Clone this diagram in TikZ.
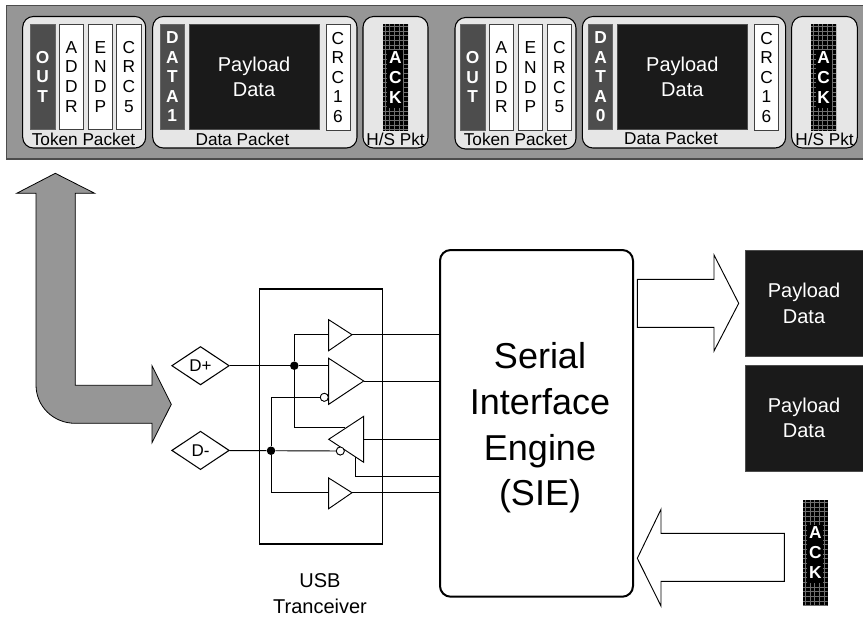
\documentclass[tikz,border=0pt]{standalone}
\usepackage{fontspec}
\setmainfont{Liberation Sans}
\usetikzlibrary{shapes.geometric}
\definecolor{bandgray}{HTML}{969696}
\definecolor{pktgray}{HTML}{E6E6E6}
\definecolor{paydark}{HTML}{1A1A1A}
\definecolor{pidgray}{HTML}{4D4D4D}
\definecolor{gridgray}{HTML}{707070}
\tikzset{
  x=0.75pt,y=-0.75pt,
  box/.style={rectangle,inner sep=0pt,outer sep=0pt,align=center},
  pkt/.style={box,draw=black,line width=0.8pt,fill=pktgray,rounded corners=8pt},
  field/.style={box,draw=black!75,line width=0.5pt,fill=white,font=\fontsize{13}{14.7}\selectfont},
  pid/.style={box,draw=black!60,line width=0.5pt,fill=pidgray,text=white,font=\fontsize{13}{14.7}\selectfont\bfseries},
  pay/.style={box,fill=paydark,draw=black!70,line width=0.4pt,text=white,font=\fontsize{15}{18.8}\selectfont},
  lbl/.style={inner sep=0pt,font=\fontsize{12.9}{15}\selectfont},
  ackbox/.style={box,text=white,font=\fontsize{13}{15}\selectfont\bfseries},
  wire/.style={draw=black,line width=0.7pt},
  gate/.style={draw=black,line width=0.7pt,fill=white,line join=miter},
  bubble/.style={circle,draw=black,line width=0.6pt,fill=white,inner sep=0pt,minimum size=6pt},
  junct/.style={circle,fill=black,inner sep=0pt,minimum size=6.4pt},
  port/.style={diamond,draw=black,line width=0.8pt,fill=white,inner sep=0pt,minimum width=43.2pt,minimum height=28.8pt,font=\fontsize{12.75}{15}\selectfont},
  block/.style={line width=0.7pt,draw=black,fill=white,line join=miter}
}
% name, x0, y0, x1, y1, style, text
\newcommand{\pxbox}[7]{\node[#6,minimum width={(#4-#2)*0.75pt},minimum height={(#5-#3)*0.75pt}] (#1) at ({(#2+#4)/2},{(#3+#5)/2}) {#7};}
% name, x0, y0, x1, y1 : grid-filled ACK field
\newcommand{\ackfield}[5]{%
  \fill[black] (#2,#3) rectangle (#4,#5);
  \begin{scope}
    \clip (#2,#3) rectangle (#4,#5);
    \foreach \k in {0,...,24} {
      \draw[gridgray,line width=0.4pt] ({#2+2.2+4.7*\k},#3) -- ({#2+2.2+4.7*\k},#5);
      \draw[gridgray,line width=0.4pt] (#2,{#3+2.2+4.7*\k}) -- (#4,{#3+2.2+4.7*\k});
    }
  \end{scope}
  \fill[black] ({(#2+#4)/2-8},{(#3+#5)/2-28}) rectangle ({(#2+#4)/2+8},{(#3+#5)/2+30});
  \node[ackbox,minimum width={(#4-#2)*0.75pt},minimum height={(#5-#3)*0.75pt}] (#1) at ({(#2+#4)/2},{(#3+#5)/2}) {A\\C\\K};}
\begin{document}
\begin{tikzpicture}
\useasboundingbox (0,0) rectangle (863,619);
% packet band
\fill[black!70] (6,5) rectangle (863,159.5);
\fill[bandgray] (6.8,5.8) rectangle (863,158.3);
% first group
\pxbox{tok1}{22.7}{16.5}{145.7}{148}{pkt}{}
\pxbox{out1}{30.3}{24}{55}{129.5}{pid}{O\\U\\T}
\pxbox{addr1}{59.3}{24}{83.3}{129.5}{field}{A\\D\\D\\R}
\pxbox{endp1}{88}{24}{112.7}{129.5}{field}{E\\N\\D\\P}
\pxbox{crc1}{116.7}{24}{141}{129.5}{field}{C\\R\\C\\5}
\node[lbl] (toklbl1) at (83.5,139) {Token Packet};
\pxbox{dat1}{152.7}{16.5}{357}{148}{pkt}{}
\pxbox{pid1}{160.3}{24}{184.3}{129.5}{pid}{D\\A\\T\\A\\1}
\pxbox{pay1}{189}{24}{319}{129.5}{pay}{Payload\\Data}
\pxbox{crcb1}{326}{24}{350}{130.5}{field}{C\\R\\C\\1\\6}
\node[lbl] (datlbl1) at (242.5,139) {Data Packet};
\pxbox{hs1}{363}{16.5}{428}{148}{pkt}{}
\ackfield{ack1}{382.7}{24}{408}{131}
\node[lbl] (hslbl1) at (395.5,139) {H/S Pkt};
% second group
\pxbox{tok2}{455}{17.5}{576}{149}{pkt}{}
\pxbox{out2}{460.3}{24}{485}{130.5}{pid}{O\\U\\T}
\pxbox{addr2}{489.3}{24}{513.7}{130.5}{field}{A\\D\\D\\R}
\pxbox{endp2}{518.3}{24}{542.7}{130.5}{field}{E\\N\\D\\P}
\pxbox{crc2}{547.3}{24}{571.7}{130.5}{field}{C\\R\\C\\5}
\node[lbl] (toklbl2) at (515.5,139.5) {Token Packet};
\pxbox{dat2}{582.3}{16.5}{785.7}{148}{pkt}{}
\pxbox{pid2}{588.7}{24}{612.7}{129.5}{pid}{D\\A\\T\\A\\0}
\pxbox{pay2}{617}{24}{747.7}{129.5}{pay}{Payload\\Data}
\pxbox{crcb2}{754.3}{24}{778.7}{130.5}{field}{C\\R\\C\\1\\6}
\node[lbl] (datlbl2) at (671,138.5) {Data Packet};
\pxbox{hs2}{791.7}{16.5}{857.3}{148}{pkt}{}
\ackfield{ack2}{811}{24}{836.3}{131}
\node[lbl] (hslbl2) at (824.5,139.5) {H/S Pkt};
% gray bus arrow
\draw[fill=bandgray,draw=black,line width=0.6pt,line join=miter]
  (55.3,173.3) -- (94.7,193.3) -- (75.3,193.3) -- (75.3,385.3) -- (152,385.3) -- (152,365.7)
  -- (171.3,404.3) -- (152,442.7) -- (152,423.3) -- (75.3,423.3)
  .. controls (53,423.3) and (36,406) .. (36,385) -- (36,193.3) -- (16.7,193.3) -- cycle;
% transceiver
\pxbox{usb}{259.7}{289}{382.7}{544}{box,draw=black,line width=0.8pt}{}
\node[lbl,align=center,font=\fontsize{15}{19}\selectfont] (usblbl) at (320,593.5) {USB\\Tranceiver};
% SIE
\pxbox{sie}{440}{250}{633}{596.7}{box,draw=black,line width=1.5pt,fill=white,rounded corners=8pt}{}
\node[align=center,inner sep=0pt,font=\fontsize{27}{34.2}\selectfont] (sietext) at (540,428) {Serial\\Interface\\Engine\\(SIE)};
% ports
\node[port] (dp) at (200.5,365.7) {D+};
\node[port] (dm) at (200.5,450.4) {D-};
\node[junct] (j1) at (294.3,365.7) {};
\node[junct] (j2) at (271,450.7) {};
\node[bubble] (b1) at (324.3,397.3) {};
\node[bubble] (b2) at (340.3,451) {};
% gate terminals
\coordinate (g1in) at (328.7,334.7);
\coordinate (g1out) at (352,334.7);
\coordinate (g2in) at (328.7,365.7);
\coordinate (g2out) at (363.7,381);
\coordinate (g3en) at (345.3,427.7);
\coordinate (g3out) at (363.7,439.3);
\coordinate (g3rx) at (355,456.7);
\coordinate (g4in) at (328.7,492.7);
\coordinate (g4out) at (352,492.7);
% wires
\draw[wire] (dp) -- (j1) -- (g2in);
\draw[wire] (dm) -- (j2) -- (b2);
\draw[wire] (j1) |- (g1in);
\draw[wire] (j1) |- (g3en);
\draw[wire] (j2) |- (b1);
\draw[wire] (j2) |- (g4in);
\draw[wire] (g1out) -- (g1out -| sie.west);
\draw[wire] (g2out) -- (g2out -| sie.west);
\draw[wire] (g3out) -- (g3out -| sie.west);
\draw[wire] (g3rx) |- (440,476);
\draw[wire] (g4out) -- (g4out -| sie.west);
% gates
\draw[gate] (328.7,319.7) -- (352,334.7) -- (328.7,350.7) -- cycle;
\draw[gate] (328.7,358.3) -- (363.7,381) -- (328.7,404.3) -- cycle;
\draw[gate] (363.7,416.3) -- (328.7,439.3) -- (363.7,462.3) -- cycle;
\draw[gate] (328.7,478) -- (352,492.7) -- (328.7,508.7) -- cycle;
\node[bubble] at (b1) {};
\node[bubble] at (b2) {};
% right side
\pxbox{pr1}{745}{250}{863}{356.7}{pay}{Payload\\Data}
\pxbox{pr2}{745}{365.3}{863}{471.3}{pay}{Payload\\Data}
\ackfield{ack3}{803}{500}{827.7}{606}
\draw[block] (637.3,279.3) -- (714,279.3) -- (714,255) -- (738.7,303.3) -- (714,351) -- (714,327.3) -- (637.3,327.3) -- cycle;
\draw[block] (637.3,558.3) -- (661,509.3) -- (661,533.3) -- (784.3,533.3) -- (784.3,581.3) -- (661,581.3) -- (661,606) -- cycle;
\end{tikzpicture}
\end{document}
